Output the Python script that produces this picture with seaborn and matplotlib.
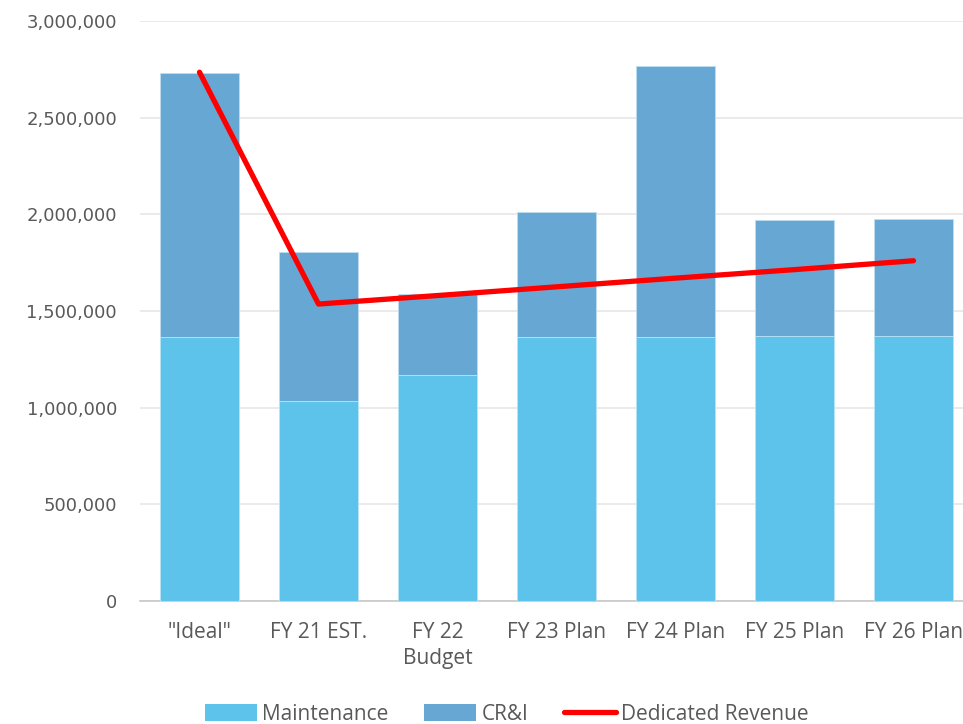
import numpy as np
import pandas as pd
import matplotlib
matplotlib.use("Agg")
import matplotlib.pyplot as plt
import matplotlib.patches as mpatches
import matplotlib.lines as mlines
from matplotlib.ticker import FuncFormatter, MultipleLocator
import seaborn as sns

categories = ['"Ideal"', "FY 21 EST.", "FY 22\nBudget", "FY 23 Plan", "FY 24 Plan", "FY 25 Plan", "FY 26 Plan"]
maintenance = [1365000, 1035000, 1170000, 1366000, 1366000, 1371000, 1371000]
cri = [1366000, 770000, 418000, 646000, 1401000, 600000, 605000]
dedicated_revenue = [2735000, 1536000, 1580000, 1625000, 1670000, 1714000, 1760000]

MAINT_COLOR = "#5DC3EB"
CRI_COLOR = "#67A7D4"
LINE_COLOR = "#FF0000"
TEXT_COLOR = "#595959"

sns.set_style("white")
plt.rcParams["font.family"] = ["Open Sans", "DejaVu Sans"]

totals = [m + c for m, c in zip(maintenance, cri)]
df = pd.DataFrame({"cat": categories, "maint": maintenance, "total": totals})

fig = plt.figure(figsize=(9.63, 7.24), dpi=100)
ax = fig.add_axes([140 / 963, 123 / 724, 833 / 963, 580 / 724])

sns.barplot(data=df, x="cat", y="total", color=CRI_COLOR, saturation=1, width=0.66,
            edgecolor="#BFDDF0", linewidth=0.6, ax=ax, zorder=2)
sns.barplot(data=df, x="cat", y="maint", color=MAINT_COLOR, saturation=1, width=0.66,
            edgecolor="#BFE6F7", linewidth=0.6, ax=ax, zorder=3)
sns.lineplot(x=np.arange(len(categories)), y=dedicated_revenue, color=LINE_COLOR,
             linewidth=3.8, sort=False, ax=ax, zorder=4, solid_capstyle="round",
             solid_joinstyle="round")

ax.set_xlim(-0.5, len(categories) - 0.5)
ax.set_ylim(0, 3000000)
ax.yaxis.set_major_locator(MultipleLocator(500000))
ax.yaxis.set_major_formatter(FuncFormatter(lambda v, p: f"{int(v):,}"))
ax.grid(axis="y", color="#E6E6E6", linewidth=1.2, zorder=0)
ax.set_axisbelow(True)
for s in ["top", "right", "left"]:
    ax.spines[s].set_visible(False)
ax.spines["bottom"].set_color("#C8C8C8")
ax.spines["bottom"].set_linewidth(1.2)
ax.set_xlabel("")
ax.set_ylabel("")
ax.tick_params(axis="both", length=0, colors=TEXT_COLOR)
ax.tick_params(axis="x", pad=15, labelsize=15)
ax.tick_params(axis="y", pad=16.5, labelsize=13)
for lbl in ax.get_yticklabels():
    lbl.set_fontfamily(["DejaVu Sans"])
for lbl in ax.get_xticklabels():
    lbl.set_linespacing(1.35)

handles = [
    mpatches.Patch(facecolor=MAINT_COLOR, edgecolor="none", label="Maintenance"),
    mpatches.Patch(facecolor=CRI_COLOR, edgecolor="none", label="CR&I"),
    mlines.Line2D([], [], color=LINE_COLOR, linewidth=3.8, label="Dedicated Revenue"),
]
leg = fig.legend(handles=handles, loc="center", bbox_to_anchor=(507 / 963, 1 - 714 / 724),
                 ncol=3, frameon=False, fontsize=15, handlelength=2.5, handleheight=0.9,
                 columnspacing=1.7, handletextpad=0.25)
for t in leg.get_texts():
    t.set_color(TEXT_COLOR)

fig.savefig("out.png", dpi=100)
